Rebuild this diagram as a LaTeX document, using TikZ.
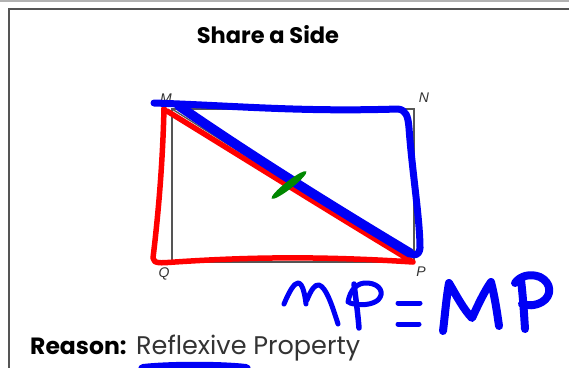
\documentclass[tikz,border=0pt]{standalone}
\usepackage{fontspec}
\setmainfont{Poppins}
\setsansfont{Liberation Sans}
\definecolor{frame}{RGB}{85,85,85}
\definecolor{inkblue}{RGB}{0,0,245}
\definecolor{inkred}{RGB}{255,0,0}
\definecolor{inkgreen}{RGB}{0,135,0}
\definecolor{lbl}{RGB}{50,50,50}
\begin{document}
\begin{tikzpicture}[x=1pt,y=-1pt,
  vlabel/.style={font=\sffamily\itshape\fontsize{14}{14}\selectfont, text=lbl, inner sep=0pt},
  redink/.style={draw=inkred, line width=5.5pt, line cap=round, line join=round},
  blueink/.style={draw=inkblue, line cap=round, line join=round},
  ]
\useasboundingbox (0,0) rectangle (569,367);
\fill[white] (0,0) rectangle (569,367);
% top gray band and frame
\draw[gray!60, line width=1.5pt] (0,0.75) -- (569,0.75);
\draw[frame, line width=1.6pt] (8.8,370) -- (8.8,8.8) -- (572,8.8);
% title
\node[font=\bfseries\fontsize{22.5}{22.5}\selectfont] (title) at (268,35) {Share a Side};
% rectangle
\coordinate (M) at (172,109);
\coordinate (N) at (414,109);
\coordinate (P) at (414,262);
\coordinate (Q) at (172,262);
\draw[frame, line width=1.3pt] (M) -- (N) -- (P) -- (Q) -- cycle;
\draw[frame, line width=1.3pt] (M) -- (P);
\node[vlabel] (lM) at (166,99) {M};
\node[vlabel] (lN) at (424,98) {N};
\node[vlabel] (lQ) at (164,274) {Q};
\node[vlabel] (lP) at (421,272) {P};
% red triangle MQP
\draw[redink] (164,108) .. controls (163,150) and (160,200) .. (153,258)
  .. controls (154,264) and (160,263) .. (175,262)
  .. controls (250,257) and (320,256) .. (413,262)
  .. controls (330,212) and (250,162) .. (167,111);
% blue triangle MNP
\draw[blueink, line width=7pt] (154,103) .. controls (240,106) and (300,112) .. (398,109)
  .. controls (406,110) and (408,116) .. (409,128)
  .. controls (412,170) and (420,220) .. (420,248)
  .. controls (419,256) and (414,256) .. (410,253);
\draw[blueink, line width=9.5pt] (410,253) .. controls (330,205) and (250,155) .. (179,106);
% green tick mark
\fill[inkgreen, rotate around={38:(289,185)}] (289,185) ellipse (22 and 3.8);
% handwritten MP = MP
\draw[blueink, line width=5pt] (284,304) .. controls (289,292) and (294,283) .. (298,283)
  .. controls (303,283) and (305,296) .. (306,304);
\draw[blueink, line width=5pt] (307,300) .. controls (311,290) and (315,284) .. (319,285)
  .. controls (326,287) and (332,305) .. (338,324);
\draw[blueink, line width=5.5pt] (354,284) .. controls (356,300) and (358,315) .. (359,328);
\draw[blueink, line width=5pt] (348,302) .. controls (350,290) and (357,282) .. (368,283)
  .. controls (380,284) and (385,293) .. (378,300)
  .. controls (372,305) and (360,306) .. (350,303);
\draw[blueink, line width=5pt] (398,303) -- (420,303);
\draw[blueink, line width=5pt] (398,324) -- (419,324);
\draw[blueink, line width=8pt] (443,331) .. controls (445,315) and (446,300) .. (449,283)
  .. controls (456,295) and (464,310) .. (472,318)
  .. controls (478,305) and (484,292) .. (491,282)
  .. controls (495,298) and (497,312) .. (499,326);
\draw[blueink, line width=8pt] (521,280) .. controls (523,297) and (524,313) .. (525,329);
\draw[blueink, line width=8pt] (515,283) .. controls (520,276) and (530,273) .. (540,277)
  .. controls (552,283) and (552,296) .. (542,302)
  .. controls (535,306) and (527,306) .. (522,304);
% reason text
\node[anchor=base west, inner sep=0pt, font=\bfseries\fontsize{23.5}{23.5}\selectfont] (reason) at (30,354) {Reason:};
\node[anchor=base west, inner sep=0pt, text=black!80, font=\fontsize{25.5}{25.5}\selectfont] (prop) at (136,354) {Reflexive Property};
% blue underline
\draw[blueink, line width=10pt] (143,369) .. controls (170,366) and (220,366) .. (246,369);
\end{tikzpicture}
\end{document}
